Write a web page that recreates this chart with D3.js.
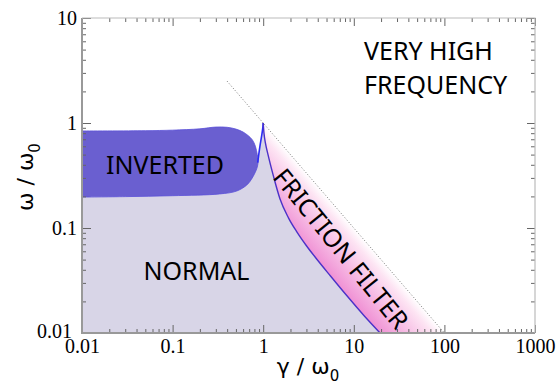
<!DOCTYPE html>
<html><head><meta charset="utf-8">
<script src="https://cdn.jsdelivr.net/npm/d3@7"></script>
<style>body{margin:0;background:#fff}</style>
</head><body>
<svg id="c" width="556" height="384"></svg>
<script>
// ---- data ----
const xTickValues = [0.01, 0.1, 1, 10, 100, 1000];
const xTickLabels = ["0.01", "0.1", "1", "10", "100", "1000"];
const yTickValues = [0.01, 0.1, 1, 10];
const yTickLabels = ["0.01", "0.1", "1", "10"];

// inverted region boundary (closed)
const invertedGamma = [0.01, 0.05, 0.1, 0.2, 0.3, 0.4, 0.5, 0.6, 0.68, 0.76, 0.82, 0.86, 0.88, 0.86, 0.81, 0.74, 0.66, 0.51, 0.33, 0.1, 0.03, 0.01];
const invertedOmega = [0.84, 0.845, 0.855, 0.88, 0.915, 0.91, 0.875, 0.82, 0.76, 0.69, 0.6, 0.5, 0.44, 0.38, 0.334, 0.29, 0.257, 0.225, 0.211, 0.203, 0.199, 0.197];

// resonance peak boundary of the normal region
const peakLeftGamma = [0.87, 0.92, 0.96, 0.99, 1.0];
const peakLeftOmega = [0.42, 0.6, 0.75, 0.9, 1.0];
const peakRightGamma = [1.0, 1.02, 1.06, 1.13, 1.3, 1.53, 1.9, 2.36, 3.0, 3.93, 5.5, 8.4, 13, 19.5];
const peakRightOmega = [1.0, 0.8, 0.64, 0.5, 0.31, 0.19, 0.125, 0.0914, 0.0678, 0.0501, 0.0351, 0.0226, 0.0146, 0.01];

// normal region corner points
const normalCornerGamma = [0.01, 0.01, 0.6];
const normalCornerOmega = [0.01, 0.5, 0.5];

// dotted boundary  omega = omega0^2 / gamma
const dottedGamma = [0.4, 100];
const dottedOmega = [2.5, 0.01];

const regionLabels = ["INVERTED", "NORMAL", "FRICTION FILTER"];
const highLabel = ["VERY HIGH", "FREQUENCY"];

// ---- drawing ----
const svg = d3.select("#c");
const x = d3.scaleLog().domain([0.01, 1000]).range([82, 535]);
const y = d3.scaleLog().domain([0.01, 10]).range([333, 18]);
const zip = (g, o) => g.map((v, i) => [v, o[i]]);
const line = d3.line().x(d => x(d[0])).y(d => y(d[1]));
const rightLine = d3.line().x(d => x(d[0])).y(d => y(d[1])).curve(d3.curveMonotoneX);
const leftLine = d3.line().x(d => x(d[0])).y(d => y(d[1])).curve(d3.curveMonotoneY);
const asL = s => "L" + s.slice(1);

const defs = svg.append("defs");
defs.append("clipPath").attr("id", "plotclip").append("rect")
  .attr("x", x(0.01)).attr("y", y(10)).attr("width", x(1000) - x(0.01)).attr("height", y(0.01) - y(10));

// gradient perpendicular to dotted line
const P = [x(10), y(0.1)];
const ddx = x(100) - x(1), ddy = y(0.01) - y(1);
const len = Math.hypot(ddx, ddy);
const perp = [-ddy / len, ddx / len];
const grad = defs.append("linearGradient").attr("id", "pinkgrad").attr("gradientUnits", "userSpaceOnUse")
  .attr("x1", P[0]).attr("y1", P[1]).attr("x2", P[0] + perp[0] * 60).attr("y2", P[1] + perp[1] * 60);
grad.append("stop").attr("offset", 0).attr("stop-color", "#ffffff");
grad.append("stop").attr("offset", 0.15).attr("stop-color", "#fde4f3");
grad.append("stop").attr("offset", 1).attr("stop-color", "#ec7acc");

const g = svg.append("g").attr("clip-path", "url(#plotclip)");

const rightPath = rightLine(zip(peakRightGamma, peakRightOmega));
const leftPath = leftLine(zip(peakLeftGamma, peakLeftOmega));

// friction filter region
g.append("path")
  .attr("d", rightPath + `L${x(dottedGamma[1])},${y(dottedOmega[1])}L${x(1)},${y(1)}Z`)
  .attr("fill", "url(#pinkgrad)");

// normal region
g.append("path")
  .attr("d", line(zip(normalCornerGamma, normalCornerOmega)) + asL(leftPath) + asL(rightPath) + "Z")
  .attr("fill", "#d8d5e7");

// inverted region
const invLine = d3.line().x(d => x(d[0])).y(d => y(d[1])).curve(d3.curveCatmullRom);
g.append("path").attr("d", invLine(zip(invertedGamma, invertedOmega)) + "Z")
  .attr("fill", "#6a5fd0").attr("stroke", "#5a50d8").attr("stroke-width", 0.8);

// peak lines
g.append("path").attr("d", leftPath)
  .attr("fill", "none").attr("stroke", "#2c2cf5").attr("stroke-width", 1.6);
g.append("path").attr("d", rightPath)
  .attr("fill", "none").attr("stroke", "#4b32c8").attr("stroke-width", 1.4);

// dotted line
g.append("path").attr("d", line(zip(dottedGamma, dottedOmega)))
  .attr("fill", "none").attr("stroke", "#777").attr("stroke-width", 1).attr("stroke-dasharray", "1,2");

// ---- axes ----
function minorVals(domain) {
  const out = [];
  for (let e = Math.log10(domain[0]); e < Math.log10(domain[1]); e++) {
    for (let m = 2; m <= 9; m++) out.push(m * Math.pow(10, e));
  }
  return out;
}
const tickColor = "#666";
function styleAxis(sel) {
  sel.select(".domain").remove();
  sel.selectAll(".tick line").attr("stroke", tickColor).attr("stroke-width", 1);
  sel.selectAll(".tick text").attr("font-family", "'Liberation Serif', serif").attr("font-size", 20).attr("fill", "#000");
}
const X0 = x(0.01), X1 = x(1000), Y0 = y(0.01), Y1 = y(10);

svg.append("g").attr("transform", `translate(0,${Y0})`)
  .call(d3.axisBottom(x).tickValues(minorVals(x.domain())).tickSizeInner(-4).tickSizeOuter(0).tickFormat(""))
  .call(styleAxis);
svg.append("g").attr("transform", `translate(0,${Y0})`)
  .call(d3.axisBottom(x).tickValues(xTickValues).tickSizeInner(-8).tickSizeOuter(0).tickPadding(6)
    .tickFormat((d, i) => xTickLabels[i]))
  .call(styleAxis);
svg.append("g").attr("transform", `translate(0,${Y1})`)
  .call(d3.axisTop(x).tickValues(minorVals(x.domain())).tickSizeInner(-4).tickSizeOuter(0).tickFormat(""))
  .call(styleAxis);
svg.append("g").attr("transform", `translate(0,${Y1})`)
  .call(d3.axisTop(x).tickValues(xTickValues).tickSizeInner(-8).tickSizeOuter(0).tickFormat(""))
  .call(styleAxis);
svg.append("g").attr("transform", `translate(${X0},0)`)
  .call(d3.axisLeft(y).tickValues(minorVals(y.domain())).tickSizeInner(-4).tickSizeOuter(0).tickFormat(""))
  .call(styleAxis);
const yAx = svg.append("g").attr("transform", `translate(${X0},0)`)
  .call(d3.axisLeft(y).tickValues(yTickValues).tickSizeInner(-9).tickSizeOuter(0).tickPadding(5)
    .tickFormat((d, i) => yTickLabels[i]))
  .call(styleAxis);
// lowest y label sits a little further left, as in the reference
yAx.selectAll(".tick text").filter(d => d === 0.01).attr("x", -10).attr("dy", "0.2em");
svg.append("g").attr("transform", `translate(${X1},0)`)
  .call(d3.axisRight(y).tickValues(minorVals(y.domain())).tickSizeInner(-4).tickSizeOuter(0).tickFormat(""))
  .call(styleAxis);
svg.append("g").attr("transform", `translate(${X1},0)`)
  .call(d3.axisRight(y).tickValues(yTickValues).tickSizeInner(-8).tickSizeOuter(0).tickFormat(""))
  .call(styleAxis);

// frame
svg.append("path").attr("d", `M${X0},${Y1}V${Y0}H${X1}`).attr("fill", "none").attr("stroke", "#999").attr("stroke-width", 2);
svg.append("path").attr("d", `M${X0},${Y1}H${X1}V${Y0}`).attr("fill", "none").attr("stroke", "#bbb").attr("stroke-width", 1.2);

// ---- labels ----
const sans = "'Noto Sans', sans-serif";
svg.append("text").attr("x", 165).attr("y", 173.5).attr("text-anchor", "middle")
  .attr("font-family", sans).attr("font-size", 25).attr("fill", "#000").text(regionLabels[0]);
svg.append("text").attr("x", 196.5).attr("y", 280).attr("text-anchor", "middle")
  .attr("font-family", sans).attr("font-size", 25).attr("fill", "#000").text(regionLabels[1]);
svg.append("text").attr("transform", "translate(342,248) rotate(51)").attr("text-anchor", "middle")
  .attr("dominant-baseline", "central")
  .attr("font-family", sans).attr("font-size", 25).attr("fill", "#000").text(regionLabels[2]);
svg.append("text").attr("x", 364).attr("y", 60).attr("font-family", sans).attr("font-size", 25).attr("fill", "#000").text(highLabel[0]);
svg.append("text").attr("x", 364).attr("y", 94).attr("font-family", sans).attr("font-size", 25).attr("fill", "#000").text(highLabel[1]);

// axis titles
const xt = svg.append("text").attr("x", 308).attr("y", 374).attr("text-anchor", "middle")
  .attr("font-family", "'DejaVu Sans', sans-serif").attr("font-size", 22).attr("fill", "#000");
xt.append("tspan").text("γ / ω");
xt.append("tspan").attr("font-size", 15).attr("dy", 7).text("0");

const yt = svg.append("text").attr("transform", "translate(33,177) rotate(-90)").attr("text-anchor", "middle")
  .attr("font-family", "'DejaVu Sans', sans-serif").attr("font-size", 22).attr("fill", "#000");
yt.append("tspan").text("ω / ω");
yt.append("tspan").attr("font-size", 15).attr("dy", 7).text("0");
</script>
</body></html>
